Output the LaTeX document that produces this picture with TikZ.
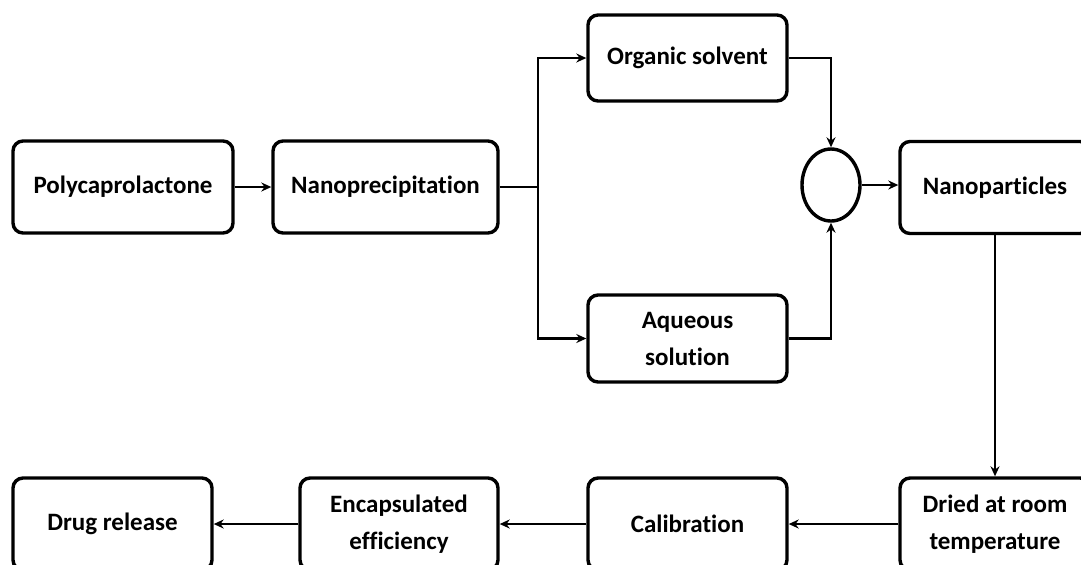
\documentclass[tikz,border=0pt]{standalone}
\usepackage{fontspec}
\setmainfont[Ligatures=NoCommon]{Carlito}
\usetikzlibrary{arrows.meta,shapes.geometric}
\begin{document}
\begin{tikzpicture}[x=0.5pt,y=-0.5pt,
  box/.style={draw, line width=1.7pt, rounded corners=5pt, minimum width=#1,
    minimum height=46pt, inner sep=0pt, align=center,
    font=\fontsize{12.5}{18.5}\selectfont\bfseries},
  box/.default=100pt,
  conn/.style={line width=1.25pt, -{Stealth[length=5pt,width=4.5pt]}},
  plain/.style={line width=1.25pt}]
\useasboundingbox (0,0) rectangle (1081,564);
\clip (0,0) rectangle (1081,564);
% nodes
\node[box=110pt] (poly) at (123,187) {Polycaprolactone};
\node[box=112.5pt] (nano) at (385.5,187) {Nanoprecipitation};
\node[box=99.5pt, minimum height=43pt] (org) at (687.5,58) {Organic solvent};
\node[box=99.5pt, minimum height=43.5pt] (aq) at (687.5,338.5) {Aqueous\\solution};
\node[draw, ellipse, line width=1.7pt, minimum width=29pt, minimum height=36pt, inner sep=0pt] (mix) at (831,185) {};
\node[box=95pt] (np) at (995,187.5) {Nanoparticles};
\node[box=95pt] (dry) at (995,524) {Dried at room\\temperature};
\node[box=99.5pt] (cal) at (687.5,524) {Calibration};
\node[box=99pt] (enc) at (399,524) {Encapsulated\\efficiency};
\node[box=99.5pt] (drug) at (112.5,524) {Drug release};
\coordinate (split) at (538,187);
% connectors
\draw[conn] (poly.east) -- (nano.west);
\draw[plain] (nano.east) -- (split);
\draw[conn] (split) |- (org.west);
\draw[conn] (split) |- (aq.west);
\draw[conn] (org.east) -| (mix.north);
\draw[conn] (aq.east) -| (mix.south);
\draw[conn] (mix.east) -- (np.west |- mix.east);
\draw[conn] (np.south) -- (dry.north);
\draw[conn] (dry.west) -- (cal.east);
\draw[conn] (cal.west) -- (enc.east);
\draw[conn] (enc.west) -- (drug.east);
\end{tikzpicture}
\end{document}
